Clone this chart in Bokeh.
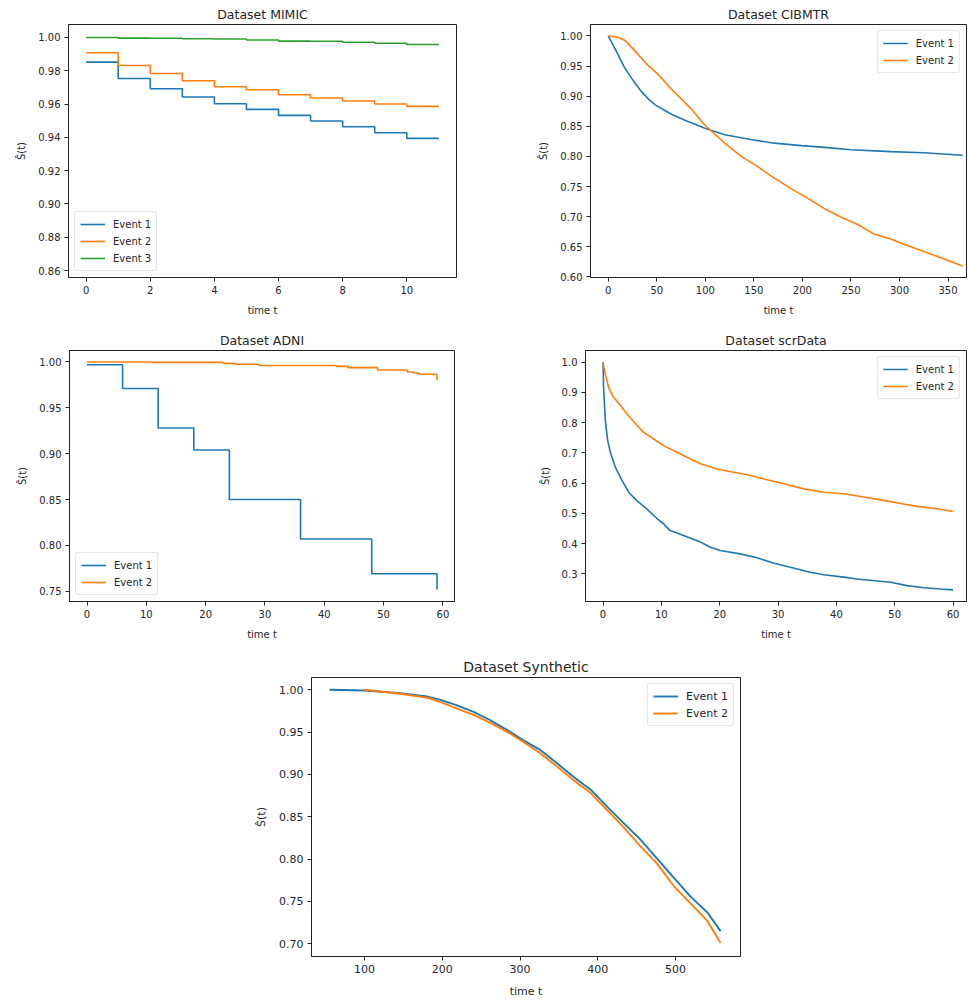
from bokeh.plotting import figure
from bokeh.layouts import column, row
from bokeh.models import Range1d, FixedTicker, NumeralTickFormatter
from bokeh.embed import file_html
from bokeh.resources import INLINE

BLUE = "#1f77b4"
ORANGE = "#ff7f0e"
GREEN = "#2ca02c"
FONT = "DejaVu Sans"
TXT = "#262626"

# ---------------- data ----------------
event_labels = ["Event 1", "Event 2", "Event 3"]

# MIMIC (step functions)
mimic_t = [0, 1, 2, 3, 4, 5, 6, 7, 8, 9, 10, 11]
mimic_e1 = [0.9852, 0.9754, 0.9692, 0.9642, 0.9602, 0.9568, 0.9532, 0.9498, 0.9464, 0.9428, 0.9394, 0.9394]
mimic_e2 = [0.9908, 0.9832, 0.9784, 0.9740, 0.9704, 0.9686, 0.9656, 0.9636, 0.9618, 0.9600, 0.9586, 0.9586]
mimic_e3 = [1.0000, 0.9996, 0.9995, 0.9992, 0.9991, 0.9985, 0.9978, 0.9977, 0.9971, 0.9965, 0.9958, 0.9958]
mimic_xticks = [0, 2, 4, 6, 8, 10]
mimic_yticks = [0.86, 0.88, 0.90, 0.92, 0.94, 0.96, 0.98, 1.00]

# CIBMTR
cib_t1 = [0, 7, 17, 27, 34, 41, 48, 65, 79, 99, 120, 147, 171, 199, 223, 250, 291, 325, 365]
cib_e1 = [1.0, 0.979, 0.947, 0.923, 0.908, 0.896, 0.886, 0.870, 0.860, 0.847, 0.836, 0.828, 0.822,
          0.818, 0.815, 0.811, 0.808, 0.806, 0.802]
cib_t2 = [0, 10, 17, 27, 41, 51, 65, 86, 99, 120, 137, 154, 171, 188, 206, 223, 240, 257, 274, 291,
          308, 325, 342, 360, 365]
cib_e2 = [1.0, 0.998, 0.993, 0.976, 0.951, 0.937, 0.912, 0.878, 0.853, 0.822, 0.800, 0.783, 0.764,
          0.747, 0.730, 0.713, 0.699, 0.687, 0.671, 0.663, 0.652, 0.642, 0.632, 0.621, 0.618]
cib_xticks = [0, 50, 100, 150, 200, 250, 300, 350]
cib_yticks = [0.60, 0.65, 0.70, 0.75, 0.80, 0.85, 0.90, 0.95, 1.00]

# ADNI (step functions)
adni_t1 = [0, 6, 12, 18, 24, 36, 48, 59]
adni_e1 = [0.997, 0.971, 0.928, 0.904, 0.850, 0.807, 0.769, 0.752]
adni_t2 = [0, 11, 23, 25, 29, 42, 44, 49, 54, 55, 56, 59]
adni_e2 = [1.0, 0.9995, 0.9985, 0.9975, 0.9962, 0.9952, 0.9938, 0.9912, 0.9890, 0.9880, 0.9866, 0.9800]
adni_xticks = [0, 10, 20, 30, 40, 50, 60]
adni_yticks = [0.75, 0.80, 0.85, 0.90, 0.95, 1.00]

# scrData
scr_t1 = [0, 0.1, 0.4, 0.8, 1.26, 2.1, 3.26, 4.4, 5.8, 7.5, 9.3, 10.4, 11.5, 13.8, 16.7, 18.4, 20.1,
          23.5, 26.4, 29.3, 32.1, 35.5, 37.8, 41.3, 43.5, 47.0, 49.3, 52.1, 55.0, 57.8, 60.0]
scr_e1 = [1.0, 0.917, 0.807, 0.741, 0.702, 0.653, 0.609, 0.570, 0.542, 0.515, 0.482, 0.465, 0.443,
          0.427, 0.405, 0.388, 0.377, 0.366, 0.353, 0.335, 0.322, 0.305, 0.297, 0.289, 0.283, 0.276,
          0.272, 0.261, 0.254, 0.250, 0.247]
scr_t2 = [0, 0.4, 1.0, 1.8, 3.0, 4.1, 5.3, 7.0, 8.7, 10.4, 12.7, 15.0, 16.7, 19.5, 22.4, 25.3, 28.1,
          31.0, 34.4, 37.8, 41.3, 44.7, 48.1, 51.5, 53.8, 57.3, 60.0]
scr_e2 = [1.0, 0.960, 0.914, 0.884, 0.857, 0.829, 0.802, 0.768, 0.746, 0.724, 0.702, 0.680, 0.664,
          0.647, 0.636, 0.625, 0.611, 0.598, 0.581, 0.570, 0.565, 0.554, 0.543, 0.531, 0.523, 0.515,
          0.506]
scr_xticks = [0, 10, 20, 30, 40, 50, 60]
scr_yticks = [0.3, 0.4, 0.5, 0.6, 0.7, 0.8, 0.9, 1.0]

# Synthetic
syn_t1 = [55, 100, 146, 181, 198, 219, 241, 262, 284, 305, 326, 348, 369, 391, 412, 434, 455, 476,
          498, 519, 541, 558]
syn_e1 = [1.0, 0.9992, 0.996, 0.992, 0.988, 0.9816, 0.9737, 0.964, 0.952, 0.940, 0.929, 0.913, 0.897,
          0.882, 0.862, 0.842, 0.823, 0.801, 0.778, 0.756, 0.737, 0.715]
syn_t2 = [100, 146, 181, 198, 219, 241, 262, 284, 305, 326, 348, 369, 391, 412, 434, 455, 476, 498,
          519, 541, 558]
syn_e2 = [1.0, 0.9953, 0.9906, 0.9855, 0.9777, 0.970, 0.961, 0.950, 0.938, 0.925, 0.909, 0.893,
          0.878, 0.858, 0.837, 0.815, 0.795, 0.768, 0.748, 0.727, 0.701]
syn_xticks = [100, 200, 300, 400, 500]
syn_yticks = [0.70, 0.75, 0.80, 0.85, 0.90, 0.95, 1.00]


def make_fig(title, width, height, bl, br, bt, bb, xr, yr, xticks, yticks, yfmt,
             tick_fs="10px", title_fs="12.5px", xlab_standoff=8):
    p = figure(width=width, height=height, output_backend="svg", toolbar_location=None,
               x_range=Range1d(*xr), y_range=Range1d(*yr),
               min_border_left=bl, min_border_right=br, min_border_top=bt, min_border_bottom=bb)
    p.grid.visible = False
    p.background_fill_color = "white"
    p.border_fill_color = "white"
    p.outline_line_color = "#222222"
    p.outline_line_width = 1
    p.title.text = title
    p.title.align = "center"
    p.title.text_font = FONT
    p.title.text_font_size = title_fs
    p.title.text_font_style = "normal"
    p.title.text_color = TXT
    p.title.standoff = 6
    for ax in (p.xaxis[0], p.yaxis[0]):
        ax.axis_line_color = "#222222"
        ax.major_tick_line_color = "#222222"
        ax.major_tick_out = 4
        ax.major_tick_in = 0
        ax.minor_tick_line_color = None
        ax.major_label_text_font = FONT
        ax.major_label_text_font_size = tick_fs
        ax.major_label_text_color = TXT
        ax.major_label_standoff = 4
        ax.axis_label_text_font = FONT
        ax.axis_label_text_font_size = tick_fs
        ax.axis_label_text_font_style = "normal"
        ax.axis_label_text_color = TXT
    p.xaxis.axis_label_standoff = xlab_standoff
    p.yaxis.axis_label_standoff = 8
    p.xaxis.ticker = FixedTicker(ticks=xticks)
    p.yaxis.ticker = FixedTicker(ticks=yticks)
    p.xaxis.formatter = NumeralTickFormatter(format="0")
    p.yaxis.formatter = NumeralTickFormatter(format=yfmt)
    p.xaxis.axis_label = "time t"
    p.yaxis.axis_label = "Ŝ(t)"
    return p


def style_legend(p, loc, fs="10px"):
    lg = p.legend[0]
    lg.location = loc
    lg.label_text_font = FONT
    lg.label_text_font_size = fs
    lg.label_text_color = TXT
    lg.border_line_color = "#cccccc"
    lg.border_line_width = 1
    lg.background_fill_alpha = 0.8
    lg.glyph_width = 25
    lg.glyph_height = 14
    lg.label_height = 14
    lg.label_standoff = 8
    lg.spacing = 3
    lg.padding = 5
    lg.margin = 6
    try:
        lg.border_radius = 3
    except Exception:
        pass


LW = 1.6

# MIMIC
p1 = make_fig("Dataset MIMIC", 480, 326, 68, 24, 24, 49, (-0.55, 11.55), (0.8558, 1.0078),
              mimic_xticks, mimic_yticks, "0.00")
p1.step(mimic_t, mimic_e1, mode="after", color=BLUE, line_width=LW, legend_label=event_labels[0])
p1.step(mimic_t, mimic_e2, mode="after", color=ORANGE, line_width=LW, legend_label=event_labels[1])
p1.step(mimic_t, mimic_e3, mode="after", color=GREEN, line_width=LW, legend_label=event_labels[2])
style_legend(p1, "bottom_left")

# CIBMTR
p2 = make_fig("Dataset CIBMTR", 488, 326, 110, 2, 24, 49, (-18.25, 369.0), (0.599, 1.019),
              cib_xticks, cib_yticks, "0.00")
p2.line(cib_t1, cib_e1, color=BLUE, line_width=LW, legend_label=event_labels[0])
p2.line(cib_t2, cib_e2, color=ORANGE, line_width=LW, legend_label=event_labels[1])
style_legend(p2, "top_right")

# ADNI
p3 = make_fig("Dataset ADNI", 480, 326, 69, 26, 24, 51, (-2.95, 61.95), (0.7388, 1.0125),
              adni_xticks, adni_yticks, "0.00")
p3.step(adni_t1, adni_e1, mode="after", color=BLUE, line_width=LW, legend_label=event_labels[0])
p3.step(adni_t2, adni_e2, mode="after", color=ORANGE, line_width=LW, legend_label=event_labels[1])
style_legend(p3, "bottom_left")

# scrData
p4 = make_fig("Dataset scrData", 488, 326, 105, 2, 24, 51, (-3.0, 62.3), (0.2084, 1.0387),
              scr_xticks, scr_yticks, "0.0")
p4.line(scr_t1, scr_e1, color=BLUE, line_width=LW, legend_label=event_labels[0])
p4.line(scr_t2, scr_e2, color=ORANGE, line_width=LW, legend_label=event_labels[1])
style_legend(p4, "top_right")

# Synthetic
p5 = make_fig("Dataset Synthetic", 750, 348, 311, 10, 25, 43, (31.8, 583.6), (0.685, 1.0145),
              syn_xticks, syn_yticks, "0.00", tick_fs="11px", title_fs="14px", xlab_standoff=9)
p5.line(syn_t1, syn_e1, color=BLUE, line_width=LW + 0.3, legend_label=event_labels[0])
p5.line(syn_t2, syn_e2, color=ORANGE, line_width=LW + 0.3, legend_label=event_labels[1])
style_legend(p5, "top_right", fs="11px")

layout = column(row(p1, p2), row(p3, p4), row(p5))
open("out.html", "w").write(file_html(layout, INLINE))
